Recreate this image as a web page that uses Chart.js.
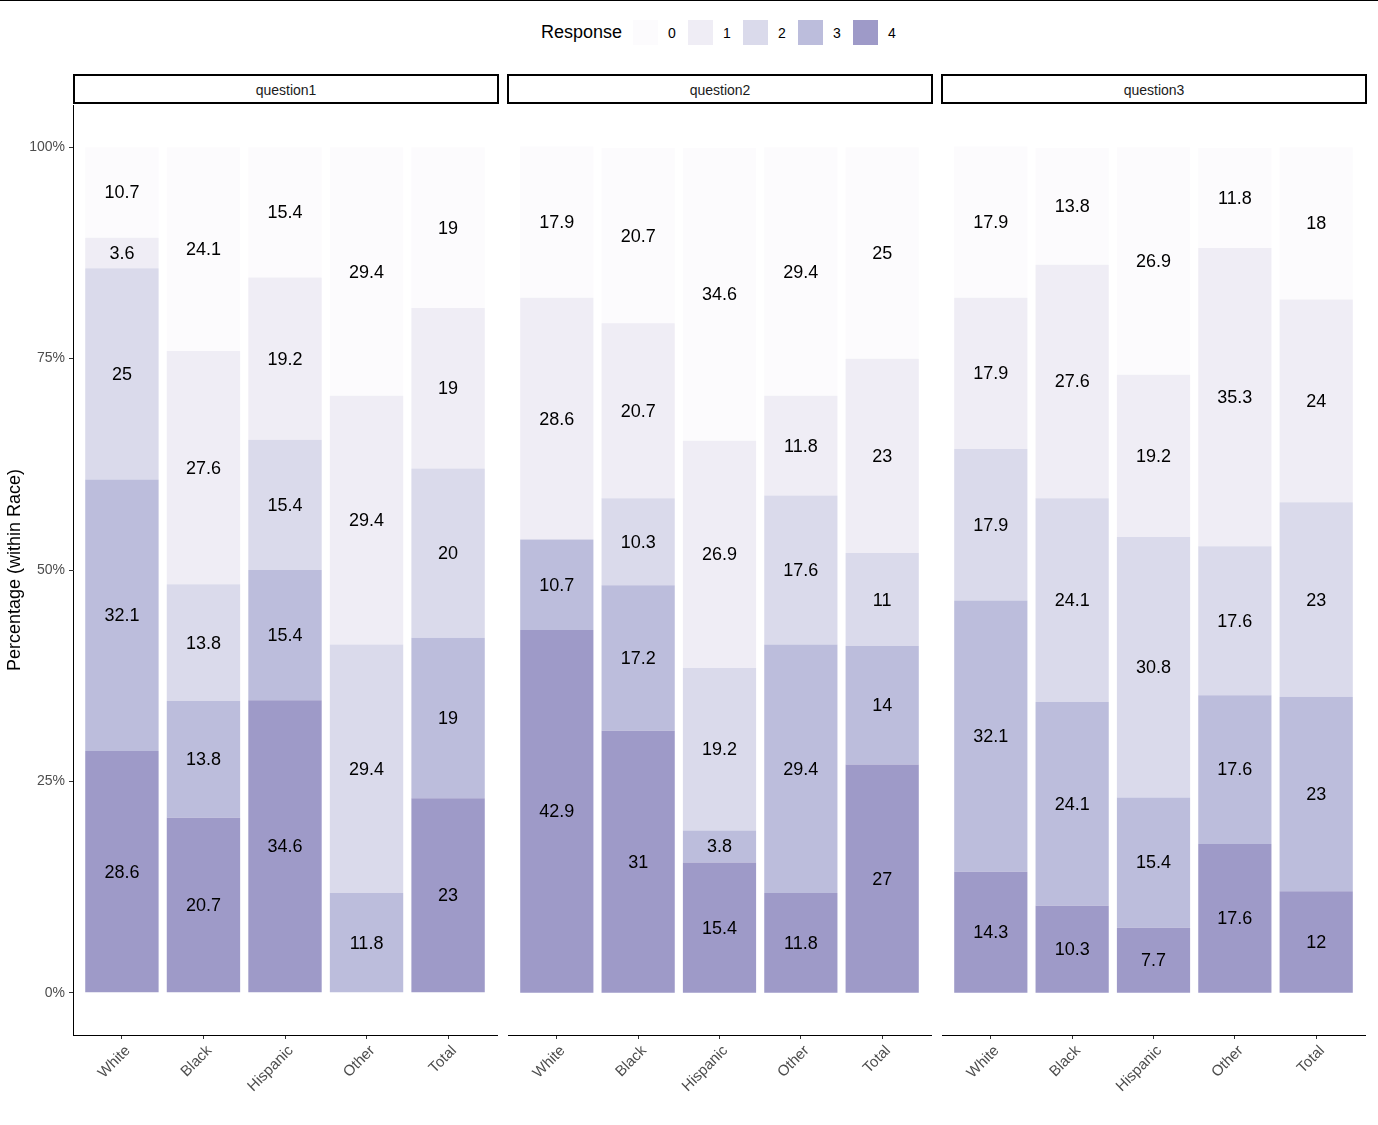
<!DOCTYPE html>
<html>
<head>
<meta charset="utf-8">
<script src="https://cdn.jsdelivr.net/npm/chart.js@4"></script>
<style>
  html, body { margin: 0; padding: 0; background: #fff; }
  #wrap { position: relative; width: 1378px; height: 1125px; overflow: hidden; font-family: "Liberation Sans", Arial, sans-serif; }
  #topline { position: absolute; left: 0; top: 0; width: 1378px; height: 1px; background: #000; }
  .strip { position: absolute; top: 74px; height: 30px; box-sizing: border-box; border: 2px solid #000; background: #fff;
           font-size: 14px; color: #1A1A1A; text-align: center; line-height: 28px; }
  .cv { position: absolute; top: 100px; height: 1025px; }
  #legend { position: absolute; top: 20px; left: 541px; height: 26px; font-size: 18px; color: #000; }
  .ltitle { position: absolute; left: 0; top: 2px; white-space: nowrap; }
  .lkey { position: absolute; top: 0; width: 25px; height: 25px; }
  .llab { position: absolute; top: 5px; font-size: 14px; white-space: nowrap; }
</style>
</head>
<body>
<div id="wrap">
  <div id="topline"></div>
  <div id="legend"></div>
  <div class="strip" style="left:73px;width:426px;">question1</div>
  <div class="strip" style="left:507px;width:426px;">question2</div>
  <div class="strip" style="left:941px;width:426px;">question3</div>
  <canvas id="c1" class="cv" style="left:0px;width:500px;" width="500" height="1025"></canvas>
  <canvas id="c2" class="cv" style="left:505px;width:430px;" width="430" height="1025"></canvas>
  <canvas id="c3" class="cv" style="left:939px;width:430px;" width="430" height="1025"></canvas>
</div>
<script>
// ---- data ----
const categories = ["White", "Black", "Hispanic", "Other", "Total"];
const responses = ["0", "1", "2", "3", "4"];
const questions = ["question1", "question2", "question3"];
const yTickValues = [0, 25, 50, 75, 100];

// question1: percentage per race for each response
const q1_r0 = [10.7, 24.1, 15.4, 29.4, 19];
const q1_r1 = [3.6, 27.6, 19.2, 29.4, 19];
const q1_r2 = [25, 13.8, 15.4, 29.4, 20];
const q1_r3 = [32.1, 13.8, 15.4, 11.8, 19];
const q1_r4 = [28.6, 20.7, 34.6, 0, 23];

// question2
const q2_r0 = [17.9, 20.7, 34.6, 29.4, 25];
const q2_r1 = [28.6, 20.7, 26.9, 11.8, 23];
const q2_r2 = [0, 10.3, 19.2, 17.6, 11];
const q2_r3 = [10.7, 17.2, 3.8, 29.4, 14];
const q2_r4 = [42.9, 31, 15.4, 11.8, 27];

// question3
const q3_r0 = [17.9, 13.8, 26.9, 11.8, 18];
const q3_r1 = [17.9, 27.6, 19.2, 35.3, 24];
const q3_r2 = [17.9, 24.1, 30.8, 17.6, 23];
const q3_r3 = [32.1, 24.1, 15.4, 17.6, 23];
const q3_r4 = [14.3, 10.3, 7.7, 17.6, 12];

const colors = ["#FCFBFD", "#EFEDF5", "#DADAEB", "#BCBDDC", "#9E9AC8"];

const panelData = [
  [q1_r0, q1_r1, q1_r2, q1_r3, q1_r4],
  [q2_r0, q2_r1, q2_r2, q2_r3, q2_r4],
  [q3_r0, q3_r1, q3_r2, q3_r3, q3_r4]
];

// ---- legend ----
const legend = document.getElementById('legend');
const lt = document.createElement('div'); lt.className = 'ltitle'; lt.textContent = 'Response'; legend.appendChild(lt);
responses.forEach((r, i) => {
  const k = document.createElement('div'); k.className = 'lkey';
  k.style.left = (92 + i * 55) + 'px'; k.style.background = colors[i]; legend.appendChild(k);
  const l = document.createElement('div'); l.className = 'llab';
  l.style.left = (127 + i * 55) + 'px'; l.textContent = r; legend.appendChild(l);
});

const FONT = "'Liberation Sans', Arial, sans-serif";

const barLabels = {
  id: 'barLabels',
  afterDatasetsDraw(chart) {
    const ctx = chart.ctx;
    ctx.save();
    ctx.font = '18px ' + FONT;
    ctx.fillStyle = '#000';
    ctx.textAlign = 'center';
    ctx.textBaseline = 'middle';
    chart.data.datasets.forEach((ds, di) => {
      const meta = chart.getDatasetMeta(di);
      meta.data.forEach((el, i) => {
        const v = ds.data[i].y;
        if (!v) return;
        const p = el.getProps(['x', 'y', 'base'], true);
        ctx.fillText(String(v), p.x, (p.y + p.base) / 2 + 1);
      });
    });
    ctx.restore();
  }
};

function makeChart(id, pi, showY, padL, padR) {
  const arrs = panelData[pi];
  const datasets = [];
  for (let r = 4; r >= 0; r--) {
    datasets.push({
      label: responses[r],
      data: arrs[r].map((v, i) => ({ x: i + 1, y: v })),
      backgroundColor: colors[r],
      borderWidth: 0,
      categoryPercentage: 0.9,
      barPercentage: 1.0
    });
  }
  return new Chart(document.getElementById(id), {
    type: 'bar',
    data: { datasets },
    options: {
      responsive: false,
      animation: false,
      events: [],
      layout: { padding: { left: padL, right: padR, top: 5, bottom: 0 } },
      plugins: { legend: { display: false }, tooltip: { enabled: false } },
      scales: {
        x: {
          type: 'linear', stacked: true, min: 0.4, max: 5.6, offset: false,
          afterBuildTicks: s => { s.ticks = categories.map((c, i) => ({ value: i + 1 })); },
          afterFit: s => { s.height = 90; s.paddingLeft = 0; s.paddingRight = 0; },
          ticks: {
            callback: v => categories[Math.round(v) - 1] || '',
            color: '#4D4D4D', font: { size: 15, family: FONT },
            maxRotation: 45, minRotation: 45, padding: 3, autoSkip: false, labelOffset: 6
          },
          grid: { display: true, offset: false, drawOnChartArea: false, drawTicks: true, tickLength: 4, color: '#333333', tickWidth: 1 },
          border: { display: true, color: '#000', width: 1 }
        },
        y: {
          display: showY, stacked: true, min: -5, max: 105,
          afterBuildTicks: s => { s.ticks = yTickValues.map(v => ({ value: v })); },
          afterFit: s => { s.width = showY ? 73 : 0; s.paddingTop = 0; s.paddingBottom = 0; },
          ticks: { callback: v => v + '%', color: '#4D4D4D', font: { size: 14, family: FONT }, padding: 4 },
          grid: { display: true, drawOnChartArea: false, drawTicks: true, tickLength: 4, color: '#333333' },
          border: { display: true, color: '#000', width: 1 },
          title: { display: true, text: 'Percentage (within Race)', color: '#000', font: { size: 18, family: FONT }, padding: { top: 4, bottom: 0 } }
        }
      }
    },
    plugins: [barLabels]
  });
}

makeChart('c1', 0, true, 0, 3);
makeChart('c2', 1, false, 3, 4);
makeChart('c3', 2, false, 3, 4);
</script>
</body>
</html>
